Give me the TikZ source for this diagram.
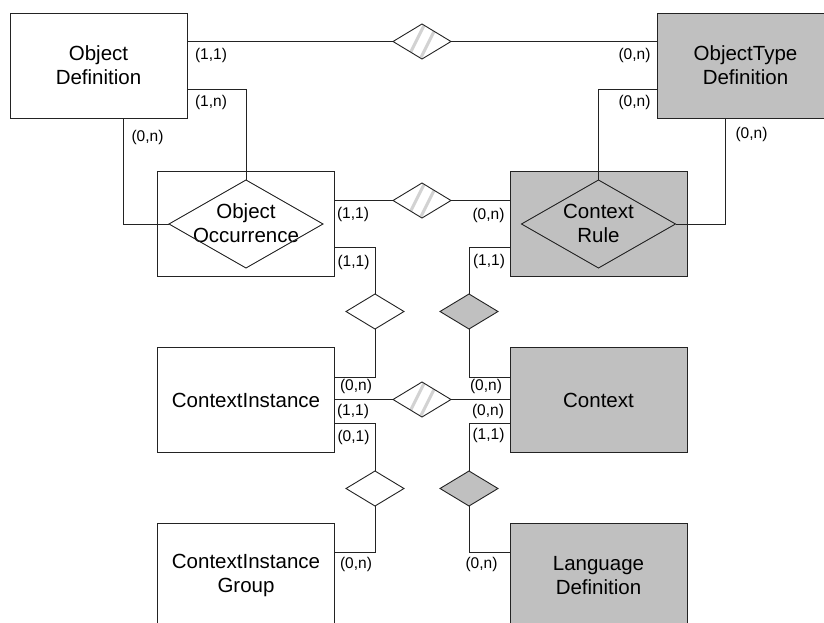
\documentclass[tikz,border=0pt]{standalone}
\usepackage{fontspec}
\setmainfont{Liberation Sans}
\usetikzlibrary{shapes.geometric}
\definecolor{boxgray}{RGB}{192,192,192}
\definecolor{linec}{RGB}{35,35,35}
\definecolor{stripec}{RGB}{210,210,210}
\tikzset{
  ent/.style={draw=linec, line width=0.9pt, minimum width=177pt, minimum height=105pt,
    inner sep=0pt, outer sep=0pt, align=center, font=\fontsize{20.5}{24}\selectfont},
  entg/.style={ent, fill=boxgray},
  rel/.style={diamond, draw=linec, line width=0.9pt, minimum width=58pt, minimum height=35pt,
    inner sep=0pt, outer sep=0pt},
  bigrel/.style={rel, minimum width=154pt, minimum height=88pt},
  relw/.style={rel, fill=white},
  relg/.style={rel, fill=boxgray},
  stripe/.style={stripec, line width=3pt},
  relh/.style={rel, fill=white, path picture={
      \draw[stripe] ([shift={(-14,16)}]path picture bounding box.center) -- ([shift={(2,-16)}]path picture bounding box.center);
      \draw[stripe] ([shift={(-1,16)}]path picture bounding box.center) -- ([shift={(15,-16)}]path picture bounding box.center);
    }},
  conn/.style={draw=linec, line width=0.9pt},
  card/.style={inner sep=0pt, font=\fontsize{15.5}{17}\selectfont}
}
\begin{document}
\begin{tikzpicture}[x=1pt,y=-1pt]
\useasboundingbox (0,0) rectangle (824,622);
\clip (0,0) rectangle (824,622);
% entities
\node[ent]  (od)  at (98.5,65.5)   {Object\\Definition};
\node[entg] (otd) at (745.5,65.5)  {ObjectType\\Definition};
\node[ent]  (oo)  at (246,223.5)   {Object\\Occurrence};
\node[entg] (cr)  at (598.5,223.5) {Context\\Rule};
\node[ent]  (ci)  at (246,400)     {ContextInstance};
\node[entg] (ctx) at (598.5,400)   {Context};
\node[ent]  (cig) at (246,575.5)   {ContextInstance\\Group};
\node[entg] (ld)  at (598.5,575.5) {Language\\Definition};
% relationship diamonds
\node[bigrel] (ood) at (246,224) {};
\node[bigrel] (crd) at (598.5,224) {};
\node[relh] (r1) at (422,41.5) {};
\node[relh] (r2) at (422,200.5) {};
\node[relh] (r3) at (422,399.5) {};
\node[relw] (w1) at (375,311.5) {};
\node[relw] (w2) at (375,488.5) {};
\node[relg] (g1) at (469,311.5) {};
\node[relg] (g2) at (469,488.5) {};
% connectors
\draw[conn] (od.east |- r1.west) -- (r1.west);
\draw[conn] (r1.east) -- (otd.west |- r1.east);
\draw[conn] (od.east |- 0,89) -| (ood.north);
\draw[conn] (od.south -| 123,0) |- (ood.west);
\draw[conn] (oo.east |- r2.west) -- (r2.west);
\draw[conn] (r2.east) -- (cr.west |- r2.east);
\draw[conn] (otd.west |- 0,89) -| (crd.north);
\draw[conn] (otd.south -| 725,0) |- (crd.east);
\draw[conn] (oo.east |- 0,247) -| (w1.north);
\draw[conn] (w1.south) |- (ci.east |- 0,377);
\draw[conn] (cr.west |- 0,247) -| (g1.north);
\draw[conn] (g1.south) |- (ctx.west |- 0,377);
\draw[conn] (ci.east |- r3.west) -- (r3.west);
\draw[conn] (r3.east) -- (ctx.west |- r3.east);
\draw[conn] (ci.east |- 0,423) -| (w2.north);
\draw[conn] (w2.south) |- (cig.east |- 0,552);
\draw[conn] (ctx.west |- 0,423) -| (g2.north);
\draw[conn] (g2.south) |- (ld.west |- 0,552);
% cardinalities
\node[card] (c1)  at (211,55)      {(1,1)};
\node[card] (c2)  at (211,102)     {(1,n)};
\node[card] (c3)  at (147.5,137.5) {(0,n)};
\node[card] (c4)  at (634.5,55)    {(0,n)};
\node[card] (c5)  at (634.5,102)   {(0,n)};
\node[card] (c6)  at (751.5,134)   {(0,n)};
\node[card] (c7)  at (353,214.5)   {(1,1)};
\node[card] (c8)  at (353.5,262)   {(1,1)};
\node[card] (c9)  at (488.5,215)   {(0,n)};
\node[card] (c10) at (489,261)     {(1,1)};
\node[card] (c11) at (356,386.5)   {(0,n)};
\node[card] (c12) at (353,411)     {(1,1)};
\node[card] (c13) at (353.5,437)   {(0,1)};
\node[card] (c14) at (486,386.5)   {(0,n)};
\node[card] (c15) at (488,411)     {(0,n)};
\node[card] (c16) at (488.5,435.5) {(1,1)};
\node[card] (c17) at (356,564)     {(0,n)};
\node[card] (c18) at (481.5,564)   {(0,n)};
\end{tikzpicture}
\end{document}
